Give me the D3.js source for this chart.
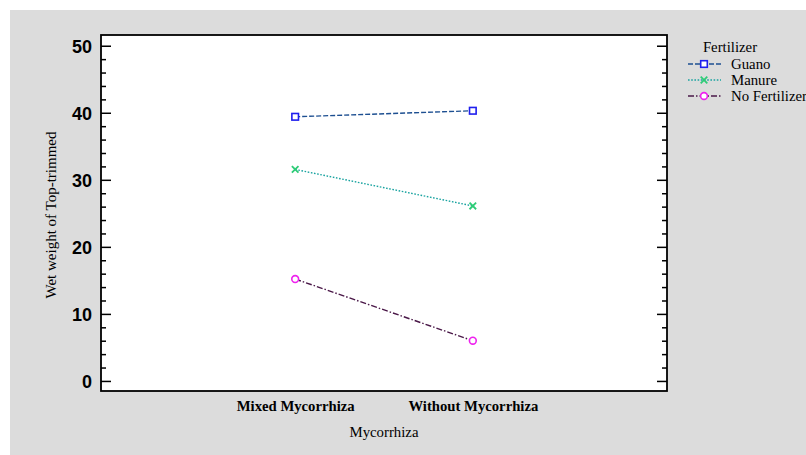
<!DOCTYPE html>
<html>
<head>
<meta charset="utf-8">
<script src="https://cdn.jsdelivr.net/npm/d3@7"></script>
<style>
  html, body { margin: 0; padding: 0; background: #ffffff; }
  svg { display: block; }
</style>
</head>
<body>
<svg id="chart" width="806" height="455"></svg>
<script>
// Interaction plot: mean wet weight by mycorrhiza treatment, one line per fertilizer
const categories = ["Mixed Mycorrhiza", "Without Mycorrhiza"];
const seriesNames = ["Guano", "Manure", "No Fertilizer"];
const guano = [39.4, 40.3];
const manure = [31.55, 26.1];
const noFertilizer = [15.2, 6.0];
const yTicks = [0, 10, 20, 30, 40, 50];

const seriesValues = [guano, manure, noFertilizer];
const styles = [
  { line: "#1d4f91", dash: "5,2", marker: "square", mcolor: "#1f1fee" },
  { line: "#1aa3a0", dash: "1.6,1.6", marker: "cross", mcolor: "#2ecc77" },
  { line: "#4a1848", dash: "6,2,1.5,2", marker: "circle", mcolor: "#ee22ee" }
];

const serif = "Liberation Serif, Times New Roman, serif";
const svg = d3.select("#chart");
const W = 806, H = 455;
const plot = { left: 101, top: 35, right: 667, bottom: 391 };

// panel background
svg.append("rect").attr("x", 10).attr("y", 10).attr("width", W - 10).attr("height", H - 10)
  .attr("fill", "#dcdcdc");
svg.append("rect").attr("x", plot.left).attr("y", plot.top)
  .attr("width", plot.right - plot.left).attr("height", plot.bottom - plot.top)
  .attr("fill", "#ffffff");

const x = d3.scalePoint().domain(categories).range([plot.left, plot.right]).padding(1.093);
const y = d3.scaleLinear().domain([-1.5, 51.6]).range([plot.bottom, plot.top]);

// left axis: major ticks with labels, minor ticks every 2
const minor = d3.range(0, 51, 2).filter(v => v % 10 !== 0);
const leftMajor = d3.axisLeft(y).tickValues(yTicks).tickSize(-10).tickPadding(9).tickFormat(d3.format("d"));
const gl = svg.append("g").attr("transform", `translate(${plot.left},0)`).call(leftMajor);
gl.select(".domain").remove();
gl.selectAll(".tick line").attr("stroke", "#000").attr("stroke-width", 1.5);
gl.selectAll(".tick text").attr("font-family", "Liberation Sans, Arial, sans-serif")
  .attr("font-weight", "bold").attr("font-size", 18).attr("fill", "#000").attr("dy", "0.36em");
const glm = svg.append("g").attr("transform", `translate(${plot.left},0)`)
  .call(d3.axisLeft(y).tickValues(minor).tickSize(-5).tickFormat(""));
glm.select(".domain").remove();
glm.selectAll(".tick line").attr("stroke", "#000").attr("stroke-width", 1.5);

// right axis mirrors the ticks inward
const gr = svg.append("g").attr("transform", `translate(${plot.right},0)`)
  .call(d3.axisRight(y).tickValues(yTicks).tickSize(-10).tickFormat(""));
gr.select(".domain").remove();
gr.selectAll(".tick line").attr("stroke", "#000").attr("stroke-width", 1.5);
const grm = svg.append("g").attr("transform", `translate(${plot.right},0)`)
  .call(d3.axisRight(y).tickValues(minor).tickSize(-5).tickFormat(""));
grm.select(".domain").remove();
grm.selectAll(".tick line").attr("stroke", "#000").attr("stroke-width", 1.5);

// bottom category labels
const gb = svg.append("g").attr("transform", `translate(0,${plot.bottom})`)
  .call(d3.axisBottom(x).tickSize(0).tickPadding(10));
gb.select(".domain").remove();
gb.selectAll(".tick text").attr("font-family", serif)
  .attr("font-weight", "bold").attr("font-size", 14.7).attr("fill", "#000");

// frame
svg.append("rect").attr("x", plot.left).attr("y", plot.top)
  .attr("width", plot.right - plot.left).attr("height", plot.bottom - plot.top)
  .attr("fill", "none").attr("stroke", "#000").attr("stroke-width", 1.8);

// axis titles
svg.append("text").attr("x", (plot.left + plot.right) / 2).attr("y", 437)
  .attr("text-anchor", "middle").attr("font-family", serif)
  .attr("font-size", 14.8).attr("fill", "#000").text("Mycorrhiza");
svg.append("text").attr("transform", `translate(56,${(plot.top + plot.bottom) / 2 + 2}) rotate(-90)`)
  .attr("text-anchor", "middle").attr("font-family", serif)
  .attr("font-size", 15).attr("fill", "#000").text("Wet weight of Top-trimmed");

function drawMarker(g, type, color, cx, cy) {
  if (type === "square") {
    g.append("rect").attr("x", cx - 3.3).attr("y", cy - 3.3).attr("width", 6.6).attr("height", 6.6)
      .attr("fill", "#fff").attr("stroke", color).attr("stroke-width", 1.6);
  } else if (type === "cross") {
    g.append("path").attr("d", `M${cx - 3.3},${cy - 3.3}L${cx + 3.3},${cy + 3.3}M${cx - 3.3},${cy + 3.3}L${cx + 3.3},${cy - 3.3}`)
      .attr("stroke", color).attr("stroke-width", 1.8).attr("fill", "none");
  } else {
    g.append("circle").attr("cx", cx).attr("cy", cy).attr("r", 3.4)
      .attr("fill", "#fff").attr("stroke", color).attr("stroke-width", 1.6);
  }
}

const line = d3.line().x((d, i) => x(categories[i])).y(d => y(d));
seriesValues.forEach((vals, k) => {
  const s = styles[k];
  const g = svg.append("g");
  g.append("path").datum(vals).attr("d", line).attr("fill", "none")
    .attr("stroke", s.line).attr("stroke-width", 1.4).attr("stroke-dasharray", s.dash);
  vals.forEach((v, i) => drawMarker(g, s.marker, s.mcolor, x(categories[i]), y(v)));
});

// legend
const lg = svg.append("g");
lg.append("text").attr("x", 730).attr("y", 52).attr("text-anchor", "middle")
  .attr("font-family", serif).attr("font-size", 14.8)
  .attr("fill", "#000").text("Fertilizer");
seriesNames.forEach((name, k) => {
  const s = styles[k];
  const yy = 64 + k * 16;
  lg.append("line").attr("x1", 688).attr("x2", 721).attr("y1", yy).attr("y2", yy)
    .attr("stroke", s.line).attr("stroke-width", 1.4).attr("stroke-dasharray", s.dash);
  drawMarker(lg, s.marker, s.mcolor, 704, yy);
  lg.append("text").attr("x", 731).attr("y", yy + 4.5)
    .attr("font-family", serif).attr("font-size", 14.8)
    .attr("fill", "#000").text(name);
});
</script>
</body>
</html>
